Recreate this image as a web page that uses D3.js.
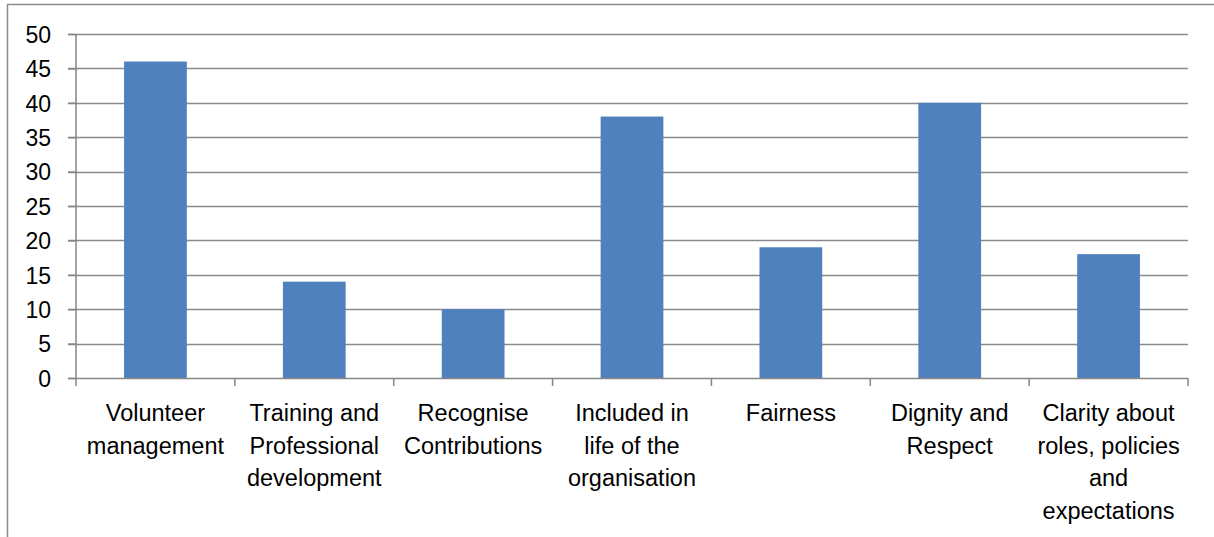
<!DOCTYPE html>
<html>
<head>
<meta charset="utf-8">
<script src="https://cdn.jsdelivr.net/npm/d3@7"></script>
<style>
  html, body { margin: 0; padding: 0; background: #fff; }
  svg { display: block; }
  text { font-family: "Liberation Sans", Arial, sans-serif; fill: #000; }
</style>
</head>
<body>
<svg id="chart" width="1214" height="537"></svg>
<script>
const categories = [
  "Volunteer management",
  "Training and Professional development",
  "Recognise Contributions",
  "Included in life of the organisation",
  "Fairness",
  "Dignity and Respect",
  "Clarity about roles, policies and expectations"
];
const labelLines = [
  ["Volunteer", "management"],
  ["Training and", "Professional", "development"],
  ["Recognise", "Contributions"],
  ["Included in", "life of the", "organisation"],
  ["Fairness"],
  ["Dignity and", "Respect"],
  ["Clarity about", "roles, policies", "and", "expectations"]
];
const values = [46, 14, 10, 38, 19, 40, 18];
const yTicks = [0, 5, 10, 15, 20, 25, 30, 35, 40, 45, 50];

const svg = d3.select("#chart");
const pLeft = 76, pRight = 1188, pTop = 34, pBottom = 378;

// outer border (chart area frame)
svg.append("rect")
  .attr("x", 7.5).attr("y", 4.5)
  .attr("width", 1300).attr("height", 600)
  .attr("fill", "none").attr("stroke", "#8c8c8c").attr("stroke-width", 1.5);

const x = d3.scaleBand().domain(categories).range([pLeft, pRight]).paddingInner(0.605).paddingOuter(0.3025);
const xb = d3.scaleBand().domain(categories).range([pLeft, pRight]);
const y = d3.scaleLinear().domain([0, 50]).range([pBottom, pTop]);

// gridlines
svg.append("g").selectAll("line").data(yTicks.filter(d => d > 0)).join("line")
  .attr("x1", pLeft - 8).attr("x2", pRight)
  .attr("y1", d => Math.round(y(d)) + 0.5).attr("y2", d => Math.round(y(d)) + 0.5)
  .attr("stroke", "#8a8a8a").attr("stroke-width", 1.5);

// bars
svg.append("g").selectAll("rect").data(values).join("rect")
  .attr("x", (d, i) => x(categories[i]))
  .attr("width", x.bandwidth())
  .attr("y", d => y(d))
  .attr("height", d => y(0) - y(d))
  .attr("fill", "#4f81bd");

// y axis
const yAxis = d3.axisLeft(y).tickValues(yTicks).tickSize(8).tickPadding(17);
const gy = svg.append("g").attr("transform", `translate(${pLeft},0)`).call(yAxis);
gy.select(".domain").attr("stroke", "#868686").attr("stroke-width", 1.5).attr("d", `M0,${pTop}V${pBottom}`);
gy.selectAll(".tick line").attr("stroke", "#868686").attr("stroke-width", 1.5);
gy.selectAll(".tick text").attr("font-size", 23).attr("font-family", "Liberation Sans, Arial, sans-serif").attr("fill", "#000").attr("dy", "0.36em");

// x axis line and ticks
const gx = svg.append("g");
gx.append("line").attr("x1", pLeft - 8).attr("x2", pRight).attr("y1", pBottom + 0.5).attr("y2", pBottom + 0.5)
  .attr("stroke", "#868686").attr("stroke-width", 1.5);
const boundaries = categories.map(c => xb(c)).concat([pRight]);
gx.selectAll("line.tk").data(boundaries).join("line").attr("class", "tk")
  .attr("x1", d => d).attr("x2", d => d)
  .attr("y1", pBottom).attr("y2", pBottom + 8)
  .attr("stroke", "#868686").attr("stroke-width", 1.5);

// category labels
const lbl = svg.append("g").selectAll("text").data(categories).join("text")
  .attr("text-anchor", "middle")
  .attr("font-size", 23.5)
  .attr("x", d => xb(d) + xb.bandwidth() / 2)
  .attr("y", 421);
lbl.each(function(d, i) {
  d3.select(this).selectAll("tspan").data(labelLines[i]).join("tspan")
    .attr("x", xb(d) + xb.bandwidth() / 2)
    .attr("dy", (t, j) => j === 0 ? 0 : 32.5)
    .text(t => t);
});
</script>
</body>
</html>
